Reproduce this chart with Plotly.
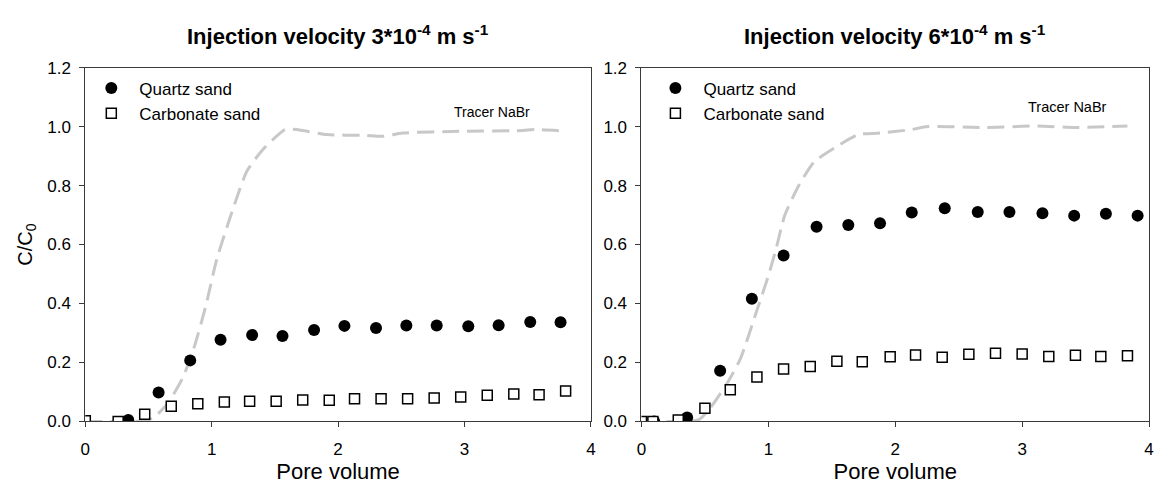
import plotly.graph_objects as go

# ---------------- data ----------------
# Left panel: injection velocity 3e-4 m/s
quartz_x_L = [0.34, 0.58, 0.83, 1.07, 1.32, 1.56, 1.81, 2.05, 2.30, 2.54, 2.78, 3.03, 3.27, 3.52, 3.76]
quartz_y_L = [0.005, 0.098, 0.207, 0.277, 0.293, 0.290, 0.310, 0.324, 0.317, 0.325, 0.325, 0.323, 0.326, 0.337, 0.336]

carb_x_L = [0.0, 0.26, 0.47, 0.68, 0.89, 1.10, 1.30, 1.51, 1.72, 1.93, 2.13, 2.34, 2.55, 2.76, 2.97, 3.18, 3.39, 3.59, 3.80]
carb_y_L = [0.002, 0.0, 0.024, 0.051, 0.060, 0.066, 0.068, 0.068, 0.073, 0.072, 0.077, 0.077, 0.077, 0.079, 0.083, 0.089, 0.093, 0.090, 0.103]

tracer_x_L = [0.0, 0.2, 0.4, 0.5, 0.55, 0.65, 0.77, 0.86, 0.95, 1.04, 1.16, 1.28, 1.40, 1.52, 1.58, 1.67,
              1.91, 2.21, 2.36, 2.51, 2.96, 3.41, 3.56, 3.76]
tracer_y_L = [0.0, 0.0, 0.0, 0.005, 0.016, 0.06, 0.147, 0.25, 0.386, 0.55, 0.71, 0.85, 0.92, 0.97, 0.99, 0.99,
              0.973, 0.97, 0.967, 0.978, 0.984, 0.986, 0.99, 0.986]

# Right panel: injection velocity 6e-4 m/s
quartz_x_R = [0.10, 0.36, 0.62, 0.87, 1.12, 1.38, 1.63, 1.88, 2.13, 2.39, 2.65, 2.90, 3.16, 3.41, 3.66, 3.91]
quartz_y_R = [0.0, 0.013, 0.172, 0.416, 0.563, 0.660, 0.666, 0.672, 0.709, 0.723, 0.710, 0.710, 0.706, 0.698, 0.704, 0.698]

carb_x_R = [0.0, 0.09, 0.29, 0.50, 0.70, 0.91, 1.12, 1.33, 1.54, 1.74, 1.96, 2.16, 2.37, 2.58, 2.79, 3.00, 3.21, 3.42, 3.62, 3.83]
carb_y_R = [0.0, 0.0, 0.005, 0.045, 0.107, 0.151, 0.178, 0.186, 0.204, 0.202, 0.219, 0.225, 0.218, 0.228, 0.231, 0.229, 0.220, 0.224, 0.220, 0.223]

tracer_x_R = [0.0, 0.2, 0.45, 0.55, 0.67, 0.78, 0.90, 1.0, 1.06, 1.13, 1.24, 1.36, 1.53, 1.71, 1.88, 2.11, 2.26,
              2.70, 3.12, 3.41, 3.83]
tracer_y_R = [0.0, 0.0, 0.005, 0.05, 0.126, 0.213, 0.364, 0.494, 0.584, 0.70, 0.80, 0.88, 0.93, 0.973, 0.978, 0.989, 1.0,
              0.997, 1.002, 0.997, 1.002]

x_ticks = [0, 1, 2, 3, 4]
y_ticks = [0.0, 0.2, 0.4, 0.6, 0.8, 1.0, 1.2]
y_ticklabels = ["0.0", "0.2", "0.4", "0.6", "0.8", "1.0", "1.2"]

titles = ["Injection velocity 3*10<sup>-4</sup> m s<sup>-1</sup>",
          "Injection velocity 6*10<sup>-4</sup> m s<sup>-1</sup>"]
series_names = ["Quartz sand", "Carbonate sand"]
tracer_label = "Tracer NaBr"

# ---------------- figure ----------------
W, H = 1159, 491
FONT = "Liberation Sans, Arial, sans-serif"
AXC = "#3a3a3a"
TRACER_C = "#c8c8c8"

fig = go.Figure()

panels = [
    ("x", "y", "legend", tracer_x_L, tracer_y_L, quartz_x_L, quartz_y_L, carb_x_L, carb_y_L),
    ("x2", "y2", "legend2", tracer_x_R, tracer_y_R, quartz_x_R, quartz_y_R, carb_x_R, carb_y_R),
]
for xa, ya, lg, tx, ty, qx, qy, cx, cy in panels:
    fig.add_trace(go.Scatter(x=tx, y=ty, mode="lines", xaxis=xa, yaxis=ya, showlegend=False,
                             line=dict(color=TRACER_C, width=3, dash="17px,8px", shape="spline", smoothing=0.6)))
    fig.add_trace(go.Scatter(x=qx, y=qy, mode="markers", xaxis=xa, yaxis=ya, name=series_names[0], legend=lg,
                             marker=dict(symbol="circle", size=12, color="black", line=dict(width=0))))
    fig.add_trace(go.Scatter(x=cx, y=cy, mode="markers", xaxis=xa, yaxis=ya, name=series_names[1], legend=lg,
                             marker=dict(symbol="square", size=10, color="white", line=dict(width=1.5, color="black"))))

dom_L = [81 / W, 591 / W]
dom_R = [642 / W, 1154 / W]
dom_y = [1 - 429 / H, 1 - 61 / H]

axis_common = dict(showline=True, linecolor=AXC, linewidth=1, mirror=True, ticks="outside", ticklen=5,
                   tickcolor=AXC, showgrid=False, zeroline=False, tickfont=dict(family=FONT, size=17, color="black"))

fig.update_layout(
    width=W, height=H, margin=dict(l=0, r=0, t=0, b=0),
    paper_bgcolor="white", plot_bgcolor="white",
    font=dict(family=FONT, color="black"),
    xaxis=dict(domain=dom_L, range=[0, 4], tickvals=x_ticks, anchor="y", ticklabelstandoff=7,
               title=dict(text="Pore volume", font=dict(size=22, family=FONT), standoff=1), **axis_common),
    yaxis=dict(domain=dom_y, range=[0, 1.2], tickvals=y_ticks, ticktext=y_ticklabels, anchor="x",
               ticklabelstandoff=5,
               title=dict(text="C/C<sub>0</sub>", font=dict(size=20, family=FONT), standoff=9), **axis_common),
    xaxis2=dict(domain=dom_R, range=[0, 4], tickvals=x_ticks, anchor="y2", ticklabelstandoff=7,
                title=dict(text="Pore volume", font=dict(size=22, family=FONT), standoff=1), **axis_common),
    yaxis2=dict(domain=dom_y, range=[0, 1.2], tickvals=y_ticks, ticktext=y_ticklabels, anchor="x2",
                ticklabelstandoff=5, **axis_common),
    legend=dict(x=79 / W, y=1 - 64 / H, xanchor="left", yanchor="top", bgcolor="rgba(0,0,0,0)",
                font=dict(size=17, family=FONT), itemwidth=46, tracegroupgap=0),
    legend2=dict(x=648 / W, y=1 - 64 / H, xanchor="left", yanchor="top", bgcolor="rgba(0,0,0,0)",
                 font=dict(size=17, family=FONT), itemwidth=46, tracegroupgap=0),
    showlegend=True,
)

fig.add_annotation(text="<b>" + titles[0] + "</b>", xref="paper", yref="paper", x=sum(dom_L) / 2, y=1 - 27 / H,
                   showarrow=False, font=dict(size=22, family=FONT), xanchor="center", yanchor="middle")
fig.add_annotation(text="<b>" + titles[1] + "</b>", xref="paper", yref="paper", x=sum(dom_R) / 2, y=1 - 27 / H,
                   showarrow=False, font=dict(size=22, family=FONT), xanchor="center", yanchor="middle")
fig.add_annotation(text=tracer_label, xref="x", yref="y", x=3.22, y=1.05, showarrow=False,
                   font=dict(size=14, family=FONT))
fig.add_annotation(text=tracer_label, xref="x2", yref="y2", x=3.36, y=1.066, showarrow=False,
                   font=dict(size=14.5, family=FONT))

fig.write_html("out.html")
